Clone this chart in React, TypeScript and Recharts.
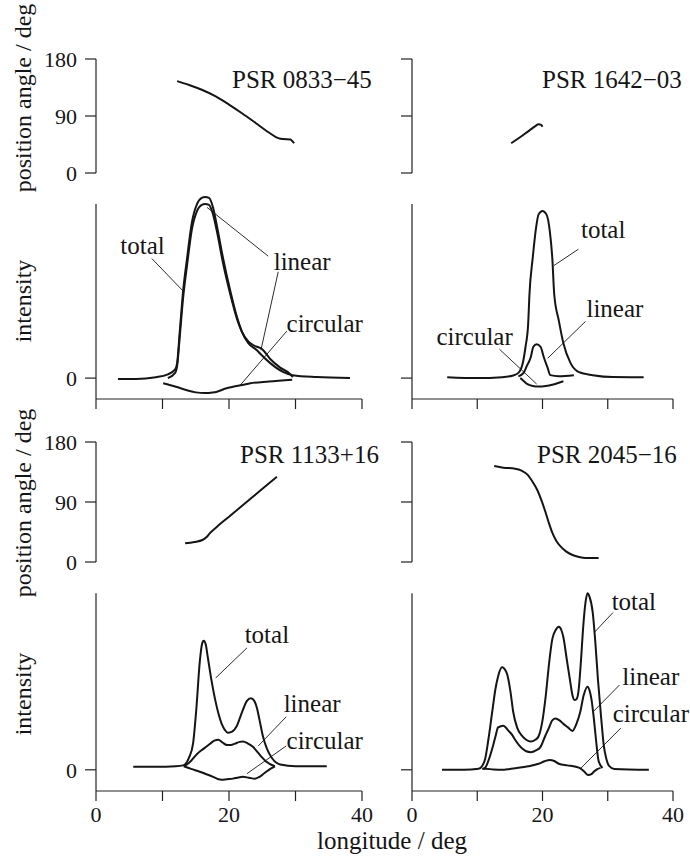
import React from 'react';
import { LineChart, Line, XAxis, YAxis, ReferenceLine, ReferenceDot } from 'recharts';

const INK = '#151515';
const SERIF = '"Liberation Serif", "Times New Roman", serif';

// longitude ticks (deg)
const lonTicks = [0, 10, 20, 30, 40];
const paTicks = [0, 90, 180];

// PSR 0833-45
const lon0833Pa = [12.2, 14, 16, 18, 20, 22, 24, 26, 27.4, 28.1, 29.2, 29.8];
const pa0833 = [145, 139, 131, 121, 108, 94, 79, 64, 55, 53.5, 53, 47];
const lon0833Total = [3.3, 6, 9, 10.7, 11.9, 12.2, 12.6, 13.1, 13.7, 14.4, 15.2, 15.9, 16.4, 17.0, 17.6, 18.3, 19.1, 20.2, 21.2, 21.9, 22.9, 24.2, 24.7, 26.2, 28.1, 29.6, 33.2, 38.2];
const total0833 = [-0.005, -0.005, 0.005, 0.02, 0.05, 0.086, 0.27, 0.5, 0.69, 0.89, 1.0, 1.035, 1.04, 1.035, 0.98, 0.85, 0.69, 0.5, 0.35, 0.27, 0.2, 0.16, 0.14, 0.086, 0.036, 0.017, 0.006, 0];
const lon0833Linear = [10.8, 11.9, 12.2, 12.6, 13.1, 13.7, 14.4, 15.2, 15.9, 16.4, 17.0, 17.6, 18.3, 19.1, 20.2, 21.2, 21.9, 22.9, 23.6, 25.0, 26.2, 27.7, 29.2, 29.6];
const linear0833 = [0, 0.03, 0.07, 0.24, 0.46, 0.65, 0.85, 0.96, 0.995, 1.0, 0.995, 0.94, 0.82, 0.66, 0.48, 0.34, 0.27, 0.21, 0.19, 0.165, 0.11, 0.06, 0.023, 0.005];
const lon0833Circ = [10.1, 12, 13.7, 15, 16.4, 17.5, 18.2, 19.5, 20.6, 22, 23.2, 26, 29.5];
const circ0833 = [-0.03, -0.05, -0.07, -0.082, -0.086, -0.083, -0.078, -0.06, -0.05, -0.04, -0.03, -0.02, -0.01];

// PSR 1642-03
const lon1642Pa = [15.2, 16.5, 17.7, 18.9, 19.4, 19.8, 20.0];
const pa1642 = [47, 56, 65, 74, 77, 76, 73];
const lon1642Total = [5.4, 10, 13.8, 15.5, 16.3, 17.0, 17.4, 17.8, 18.0, 18.5, 19.0, 19.4, 20.0, 20.6, 21.1, 21.5, 21.8, 22.5, 23.2, 24.3, 25.6, 27.7, 30.8, 35.5];
const total1642 = [0.005, 0, 0.005, 0.015, 0.03, 0.09, 0.18, 0.31, 0.48, 0.69, 0.86, 0.94, 0.96, 0.94, 0.85, 0.69, 0.48, 0.33, 0.2, 0.086, 0.034, 0.017, 0.006, 0.005];
const lon1642Linear = [16.3, 17.1, 17.6, 18.2, 18.6, 19.1, 19.7, 20.2, 20.8, 21.2, 22.5, 24.8];
const linear1642 = [0.01, 0.03, 0.07, 0.12, 0.18, 0.195, 0.18, 0.12, 0.057, 0.017, 0.011, 0.017];
const lon1642Circ = [16.6, 17.2, 17.7, 18.5, 19.4, 20.5, 21.5, 22.4, 23.2];
const circ1642 = [0, -0.02, -0.035, -0.045, -0.048, -0.045, -0.038, -0.028, -0.018];

// PSR 1133+16
const lon1133Pa = [13.4, 14.8, 16.0, 16.6, 17.1, 18.2, 20, 21.7, 23.5, 25.3, 27.2];
const pa1133 = [28, 30, 33, 37, 43, 53, 68, 82, 97, 112, 128];
const lon1133Total = [5.6, 9, 12, 13.1, 14.0, 14.6, 15.1, 15.6, 16.0, 16.2, 16.5, 16.8, 17.3, 17.9, 18.4, 18.9, 19.4, 19.8, 20.4, 21.2, 21.7, 22.1, 22.7, 23.3, 23.8, 24.2, 24.6, 25.1, 25.7, 26.4, 27.7, 30, 34.7];
const total1133 = [0.017, 0.017, 0.02, 0.025, 0.07, 0.15, 0.35, 0.61, 0.72, 0.73, 0.71, 0.64, 0.52, 0.4, 0.32, 0.26, 0.225, 0.21, 0.215, 0.25, 0.3, 0.34, 0.39, 0.405, 0.39, 0.35, 0.28, 0.19, 0.12, 0.07, 0.03, 0.02, 0.02];
const lon1133Linear = [13.2, 14.0, 15.2, 16.2, 17.1, 17.8, 18.4, 19.0, 19.7, 20.3, 20.9, 21.6, 22.1, 22.8, 23.6, 24.3, 24.9, 25.5, 26.1, 26.9];
const linear1133 = [0.02, 0.04, 0.09, 0.12, 0.146, 0.165, 0.17, 0.155, 0.14, 0.14, 0.148, 0.158, 0.16, 0.15, 0.13, 0.1, 0.073, 0.05, 0.034, 0.02];
const lon1133Circ = [13.2, 14.3, 15.6, 16.6, 17.6, 18.3, 18.9, 19.7, 20.6, 21.4, 22.1, 23.0, 23.9, 24.6, 25.4, 26.2, 26.9];
const circ1133 = [0.02, 0.005, -0.011, -0.025, -0.04, -0.052, -0.056, -0.053, -0.05, -0.044, -0.04, -0.045, -0.05, -0.04, -0.017, 0.005, 0.02];

// PSR 2045-16
const lon2045Pa = [12.6, 14, 15.8, 16.8, 17.7, 18.5, 19.2, 19.9, 20.5, 21.0, 21.5, 22.1, 22.8, 23.6, 24.6, 25.6, 26.6, 28.6];
const pa2045 = [144, 141.5, 140, 137, 131, 120, 108, 91, 73.5, 58, 44, 32, 23, 16, 10.5, 7.5, 6, 6];
const lon2045Total = [4.6, 8, 10.2, 10.8, 11.2, 11.7, 12.3, 12.8, 13.2, 13.8, 14.2, 14.6, 15.1, 15.5, 16.1, 16.9, 17.5, 18.2, 18.9, 19.4, 20.0, 20.5, 21.0, 21.5, 22.0, 22.5, 22.9, 23.2, 23.7, 24.2, 24.6, 24.9, 25.2, 25.5, 25.9, 26.2, 26.6, 26.9, 27.2, 27.7, 28.1, 28.5, 29.0, 29.4, 29.8, 30.2, 31, 36.3];
const total2045 = [0, 0, 0.006, 0.025, 0.06, 0.17, 0.33, 0.46, 0.53, 0.58, 0.57, 0.54, 0.44, 0.33, 0.24, 0.19, 0.17, 0.16, 0.17, 0.19, 0.28, 0.42, 0.6, 0.74, 0.79, 0.81, 0.79, 0.75, 0.63, 0.51, 0.42, 0.395, 0.4, 0.44, 0.62, 0.79, 0.95, 1.0, 0.98, 0.89, 0.72, 0.51, 0.29, 0.135, 0.06, 0.022, 0.005, 0];
const lon2045Linear = [10.8, 11.2, 11.7, 12.3, 12.8, 13.2, 14.0, 14.8, 15.4, 15.8, 16.4, 16.9, 17.5, 18.2, 19.0, 19.7, 20.4, 20.9, 21.5, 22.0, 22.6, 23.2, 23.9, 24.6, 25.2, 25.8, 26.3, 26.9, 27.2, 27.5, 27.9, 28.2, 28.6, 29.2];
const linear2045 = [0.005, 0.011, 0.05, 0.12, 0.19, 0.24, 0.25, 0.22, 0.195, 0.17, 0.14, 0.12, 0.105, 0.1, 0.11, 0.13, 0.19, 0.23, 0.28, 0.29, 0.28, 0.26, 0.24, 0.22, 0.26, 0.33, 0.42, 0.47, 0.45, 0.4, 0.28, 0.17, 0.05, 0.01];
const lon2045Circ = [10.8, 11.2, 12.5, 13.8, 15, 16.3, 17.8, 19.4, 20.3, 21.1, 21.8, 22.5, 23.8, 25.1, 25.8, 26.4, 27.0, 27.5, 27.9, 28.4, 28.9];
const circ2045 = [0.006, 0.006, 0.002, 0, 0.005, 0.011, 0.02, 0.034, 0.048, 0.056, 0.05, 0.034, 0.025, 0.017, 0.008, -0.01, -0.03, -0.025, -0.01, 0.004, 0.011];

const pts = (xs: number[], ys: number[]) => xs.map((x, i) => ({ x, y: ys[i] }));

interface Note {
  text: string;
  at: [number, number];
  leaders: [number, number, number, number][];
}

const notes0833: Note[] = [
  { text: 'total', at: [7.0, 0.766], leaders: [[8.4, 0.686, 13.1, 0.5]] },
  { text: 'linear', at: [31.0, 0.674], leaders: [[25.9, 0.7, 16.7, 0.98], [27.4, 0.61, 24.8, 0.16]] },
  { text: 'circular', at: [34.4, 0.314], leaders: [[28.7, 0.27, 21.7, -0.04]] },
];
const notes1642: Note[] = [
  { text: 'total', at: [29.3, 0.857], leaders: [[25.5, 0.74, 21.7, 0.645]] },
  { text: 'linear', at: [31.1, 0.4], leaders: [[26.6, 0.326, 20.8, 0.114]] },
  { text: 'circular', at: [9.6, 0.24], leaders: [[13.4, 0.166, 19.1, -0.034]] },
];
const notes1133: Note[] = [
  { text: 'total', at: [25.7, 0.77], leaders: [[22.7, 0.69, 18.0, 0.52]] },
  { text: 'linear', at: [32.5, 0.376], leaders: [[28.6, 0.3, 24.4, 0.135]] },
  { text: 'circular', at: [34.4, 0.17], leaders: [[28.6, 0.135, 22.7, -0.022]] },
];
const notes2045: Note[] = [
  { text: 'total', at: [34.0, 0.955], leaders: [[30.8, 0.89, 28.0, 0.78]] },
  { text: 'linear', at: [36.6, 0.53], leaders: [[31.8, 0.48, 27.8, 0.33]] },
  { text: 'circular', at: [36.6, 0.32], leaders: [[32.0, 0.236, 25.8, 0.006]] },
];

const M = 70;
const AXIS = { stroke: '#222', strokeWidth: 1.2 };
const TICK = { fill: INK, fontSize: 22, fontFamily: SERIF };
const blank = () => '';

interface Box { x0: number; y0: number; w: number; h: number }

const PaChart: React.FC<{ box: Box; lon: number[]; pa: number[]; labels: boolean }> = ({ box, lon, pa, labels }) => (
  <div style={{ position: 'absolute', left: box.x0 - M, top: box.y0 - M }}>
    <LineChart width={box.w + 2 * M} height={box.h + 2 * M} margin={{ top: M, right: M, bottom: M, left: M - 1 }} style={{ overflow: 'visible' }}>
      <XAxis type="number" dataKey="x" domain={[0, 40]} allowDataOverflow hide />
      <YAxis type="number" domain={[0, 180]} ticks={paTicks} interval={0} width={1} allowDataOverflow
        tickSize={11} tickMargin={8} axisLine={AXIS} tickLine={AXIS} tick={TICK}
        tickFormatter={labels ? undefined : blank} />
      <Line data={pts(lon, pa)} dataKey="y" type="monotone" stroke={INK} strokeWidth={2} dot={false} isAnimationActive={false} />
    </LineChart>
  </div>
);

const IntChart: React.FC<{
  box: Box; total: { x: number; y: number }[]; linear: { x: number; y: number }[]; circular: { x: number; y: number }[];
  notes: Note[]; xLabels: boolean; yLabel: boolean;
}> = ({ box, total, linear, circular, notes, xLabels, yLabel }) => (
  <div style={{ position: 'absolute', left: box.x0 - M, top: box.y0 - M }}>
    <LineChart width={box.w + 2 * M} height={box.h + 2 * M} margin={{ top: M, right: M, bottom: M - 1, left: M - 1 }} style={{ overflow: 'visible' }}>
      <XAxis type="number" dataKey="x" domain={[0, 40]} ticks={lonTicks} interval={0} height={1} allowDataOverflow
        tickSize={10} tickMargin={5} axisLine={AXIS} tickLine={AXIS} tick={TICK}
        tickFormatter={(v: number) => (xLabels && v % 20 === 0 ? String(v) : '')} />
      <YAxis type="number" domain={[-0.12, 1.08]} ticks={[0]} interval={0} width={1} allowDataOverflow
        tickSize={11} tickMargin={8} axisLine={false} tickLine={AXIS} tick={TICK}
        tickFormatter={yLabel ? undefined : blank} />
      <ReferenceLine segment={[{ x: 0, y: -0.12 }, { x: 0, y: 1.0 }]} stroke="#222" strokeWidth={1.2} ifOverflow="visible" />
      <Line data={total} dataKey="y" type="monotone" stroke={INK} strokeWidth={2} dot={false} isAnimationActive={false} />
      <Line data={linear} dataKey="y" type="monotone" stroke={INK} strokeWidth={2} dot={false} isAnimationActive={false} />
      <Line data={circular} dataKey="y" type="monotone" stroke={INK} strokeWidth={2} dot={false} isAnimationActive={false} />
      {notes.map((n) => (
        <React.Fragment key={n.text}>
          {n.leaders.map((l, i) => (
            <ReferenceLine key={n.text + i} segment={[{ x: l[0], y: l[1] }, { x: l[2], y: l[3] }]} stroke={INK} strokeWidth={0.9} ifOverflow="visible" />
          ))}
          <ReferenceDot x={n.at[0]} y={n.at[1]} r={0} stroke="none" fill="none" ifOverflow="visible"
            label={{ value: n.text, position: 'center', fill: INK, fontSize: 25, fontFamily: SERIF }} />
        </React.Fragment>
      ))}
    </LineChart>
  </div>
);

const App: React.FC = () => {
  const L = { x0: 96, w: 266 };
  const R = { x0: 412, w: 261 };
  return (
    <div style={{ position: 'absolute', left: 0, top: 0, width: 690, height: 860, background: '#fff', overflow: 'hidden' }}>
      <svg width={690} height={860} style={{ position: 'absolute', left: 0, top: 0 }}>
        <g fontFamily={SERIF} fill={INK} fontSize={24}>
          <text transform="translate(31,98) rotate(-90)" textAnchor="middle">position angle / deg</text>
          <text transform="translate(31,301) rotate(-90)" textAnchor="middle">intensity</text>
          <text transform="translate(31,503) rotate(-90)" textAnchor="middle">position angle / deg</text>
          <text transform="translate(31,694) rotate(-90)" textAnchor="middle">intensity</text>
          <text x={392} y={849} textAnchor="middle" fontSize={25}>longitude / deg</text>
        </g>
        <g fontFamily={SERIF} fill={INK} fontSize={25}>
          <text x={232} y={88}>PSR 0833−45</text>
          <text x={542} y={88}>PSR 1642−03</text>
          <text x={240} y={463}>PSR 1133+16</text>
          <text x={537} y={463}>PSR 2045−16</text>
        </g>
      </svg>

      <PaChart box={{ ...L, y0: 59, h: 114 }} lon={lon0833Pa} pa={pa0833} labels />
      <PaChart box={{ ...R, y0: 59, h: 114 }} lon={lon1642Pa} pa={pa1642} labels={false} />
      <PaChart box={{ ...L, y0: 442, h: 120 }} lon={lon1133Pa} pa={pa1133} labels />
      <PaChart box={{ ...R, y0: 442, h: 120 }} lon={lon2045Pa} pa={pa2045} labels={false} />

      <IntChart box={{ ...L, y0: 190, h: 209 }} total={pts(lon0833Total, total0833)} linear={pts(lon0833Linear, linear0833)}
        circular={pts(lon0833Circ, circ0833)} notes={notes0833} xLabels={false} yLabel />
      <IntChart box={{ ...R, y0: 190, h: 209 }} total={pts(lon1642Total, total1642)} linear={pts(lon1642Linear, linear1642)}
        circular={pts(lon1642Circ, circ1642)} notes={notes1642} xLabels={false} yLabel={false} />
      <IntChart box={{ ...L, y0: 579, h: 212 }} total={pts(lon1133Total, total1133)} linear={pts(lon1133Linear, linear1133)}
        circular={pts(lon1133Circ, circ1133)} notes={notes1133} xLabels yLabel />
      <IntChart box={{ ...R, y0: 579, h: 212 }} total={pts(lon2045Total, total2045)} linear={pts(lon2045Linear, linear2045)}
        circular={pts(lon2045Circ, circ2045)} notes={notes2045} xLabels yLabel={false} />
    </div>
  );
};

export default App;
